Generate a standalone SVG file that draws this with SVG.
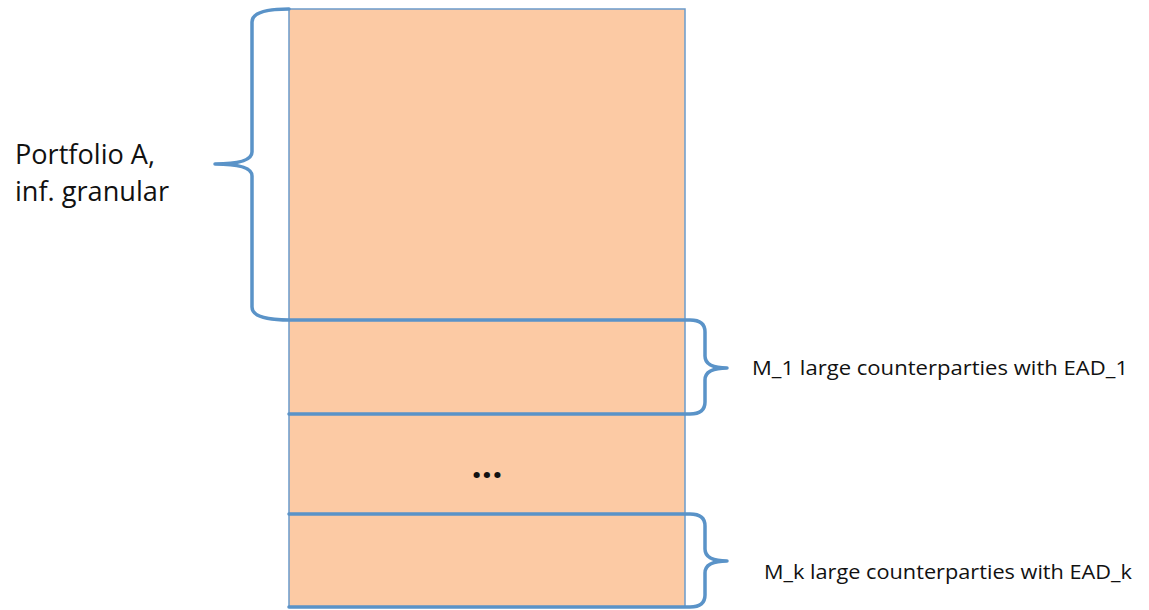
<svg xmlns="http://www.w3.org/2000/svg" width="1149" height="610" viewBox="0 0 1149 610">
<style>
.brace{fill:none;stroke:#5A93C8;stroke-width:3.5;stroke-linejoin:round;stroke-linecap:round}
.lbl{font-family:"Open Sans","Liberation Sans",sans-serif;fill:#111}
</style>
<rect width="1149" height="610" fill="#ffffff"/>
<g id="portfolio">
<rect x="289" y="9" width="396" height="598" fill="#FCCAA4" stroke="#6A9BCB" stroke-width="1.5"/>
<text class="lbl" x="487" y="478" font-size="36" font-weight="bold" text-anchor="middle">...</text>
</g>
<g id="connectors">
<path class="brace" d="M289 9 Q252 9 252 22 L252 152 Q252 164 215 164 Q252 164 252 176 L252 307 Q252 320 289 320 L690 320 Q705 320 705 332 L705 356 Q705 368 727 368 Q705 368 705 380 L705 402 Q705 414 690 414 L289 414"/>
<path class="brace" d="M289 514 L690 514 Q705 514 705 526 L705 549 Q705 561 727 561 Q705 561 705 573 L705 595 Q705 607 690 607 L289 607"/>
</g>
<g id="label-portfolio">
<text class="lbl" x="15" y="164" font-size="28" textLength="140" lengthAdjust="spacingAndGlyphs">Portfolio A,</text>
<text class="lbl" x="15" y="201" font-size="28" textLength="154" lengthAdjust="spacingAndGlyphs">inf. granular</text>
</g>
<g id="label-m1">
<text class="lbl" x="752" y="375" font-size="20" textLength="376" lengthAdjust="spacingAndGlyphs">M_1 large counterparties with EAD_1</text>
</g>
<g id="label-mk">
<text class="lbl" x="764" y="579" font-size="20" textLength="368" lengthAdjust="spacingAndGlyphs">M_k large counterparties with EAD_k</text>
</g>
</svg>
